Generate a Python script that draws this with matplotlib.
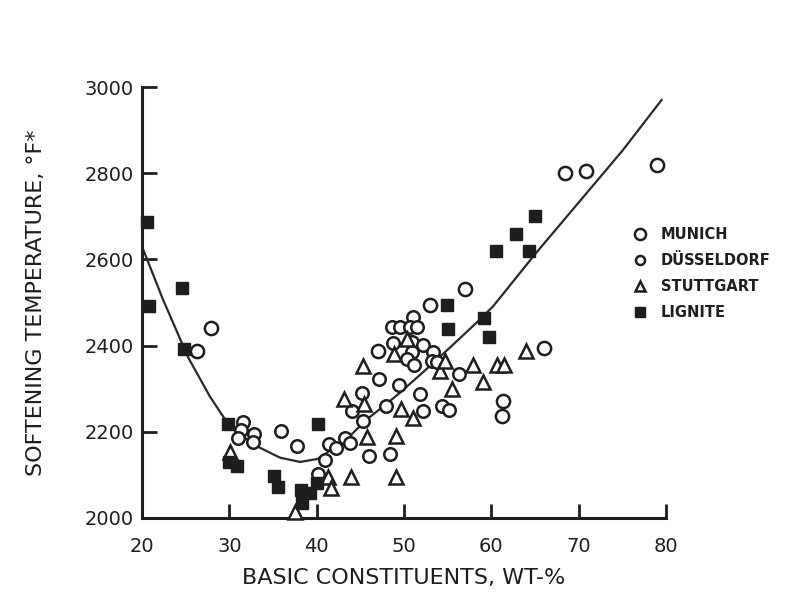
import matplotlib
matplotlib.use('Agg')
import matplotlib.pyplot as plt
from matplotlib.lines import Line2D

# fitted curve
curve_x = [20, 22.4, 25.3, 27.8, 29.7, 31.5, 33.5, 35.8, 38.1, 40.1, 41.8, 43.7,
           45.7, 48.0, 49.5, 52.6, 55.5, 58.3, 60.2, 65.0, 70.0, 75.0, 79.5]
curve_t = [2630, 2507, 2372, 2281, 2223, 2190, 2163, 2140, 2130, 2137, 2160, 2188,
           2228, 2265, 2290, 2346, 2400, 2453, 2491, 2612, 2732, 2852, 2970]

munich_x = [27.9, 26.3, 47.0, 53.0, 57.0, 61.3, 61.2, 66.0, 68.4, 70.8, 79.0]
munich_t = [2440, 2388, 2388, 2495, 2532, 2272, 2237, 2395, 2800, 2805, 2819]

dussel_x = [31.6, 31.3, 31.0, 32.8, 32.7, 35.9, 37.8, 40.9, 40.1, 41.4, 42.2, 43.2,
            43.8, 45.3, 44.0, 45.2, 47.1, 47.9, 46.0, 48.4, 48.6, 48.7, 49.4,
            51.0, 49.5, 50.7, 51.5, 50.9, 52.2, 50.9, 50.3, 51.2, 53.3, 53.2, 53.8,
            56.3, 51.8, 52.2, 54.3, 55.1]
dussel_t = [2223, 2205, 2186, 2195, 2177, 2202, 2167, 2135, 2102, 2172, 2163, 2186,
            2174, 2226, 2249, 2291, 2323, 2260, 2144, 2149, 2444, 2407, 2308,
            2467, 2444, 2442, 2442, 2409, 2402, 2386, 2370, 2356, 2384, 2365, 2363,
            2333, 2288, 2249, 2260, 2251]

stutt_x = [30.1, 37.5, 41.3, 41.6, 43.1, 43.9, 45.3, 45.4, 45.8, 48.9, 49.1, 49.1,
           49.7, 50.4, 51.0, 54.1, 54.7, 55.5, 57.9, 59.1, 60.6, 61.4, 64.0]
stutt_t = [2153, 2014, 2095, 2070, 2275, 2095, 2352, 2265, 2188, 2380, 2095, 2191,
           2253, 2415, 2233, 2340, 2364, 2300, 2356, 2316, 2356, 2356, 2388]

lignite_x = [20.6, 24.6, 20.8, 24.8, 29.9, 30.0, 30.9, 35.1, 35.6, 38.2, 39.2, 38.3,
             40.0, 40.1, 54.9, 55.0, 59.2, 59.7, 60.5, 64.3, 62.8, 65.0]
lignite_t = [2686, 2533, 2491, 2391, 2219, 2130, 2121, 2098, 2072, 2065, 2058, 2035,
             2081, 2219, 2495, 2439, 2465, 2421, 2619, 2619, 2658, 2700]

x_ticks = [20, 30, 40, 50, 60, 70, 80]
y_ticks = [2000, 2200, 2400, 2600, 2800, 3000]

ink = '#1e1e1e'

fig = plt.figure(figsize=(8, 5.98), dpi=100)
ax = fig.add_axes([0.1775, 0.1338, 0.655, 0.7207])

ax.plot(curve_x, curve_t, color='#2a2a2a', lw=1.6, zorder=2)

ax.plot(munich_x, munich_t, 'o', ms=9.5, mfc='white', mec=ink, mew=1.8, zorder=3, clip_on=False)
ax.plot(dussel_x, dussel_t, 'o', ms=9, mfc='white', mec=ink, mew=1.8, zorder=3, clip_on=False)
ax.plot(stutt_x, stutt_t, '^', ms=10.5, mfc='white', mec=ink, mew=1.8, zorder=3, clip_on=False)
ax.plot(lignite_x, lignite_t, 's', ms=8.5, mfc=ink, mec=ink, mew=1, zorder=4, clip_on=False)

ax.set_xlim(20, 80)
ax.set_ylim(2000, 3000)
ax.set_xticks(x_ticks)
ax.set_yticks(y_ticks)
for s in ['top', 'right']:
    ax.spines[s].set_visible(False)
for s in ['left', 'bottom']:
    ax.spines[s].set_linewidth(2.2)
    ax.spines[s].set_color(ink)
ax.tick_params(axis='x', direction='in', length=10, width=2, color=ink, pad=14,
               labelsize=14, labelcolor=ink)
ax.tick_params(axis='y', direction='in', length=11, width=2, color=ink, pad=6,
               labelsize=14, labelcolor=ink)

ax.set_xlabel('BASIC CONSTITUENTS, WT-%', fontsize=16, color=ink, labelpad=8)
ax.set_ylabel('SOFTENING TEMPERATURE, °F*', fontsize=16, color=ink, labelpad=28)

handles = [
    Line2D([], [], ls='none', marker='o', ms=8, mfc='white', mec=ink, mew=1.8),
    Line2D([], [], ls='none', marker='o', ms=6.5, mfc='white', mec=ink, mew=1.8),
    Line2D([], [], ls='none', marker='^', ms=7.5, mfc='white', mec=ink, mew=1.8),
    Line2D([], [], ls='none', marker='s', ms=7, mfc=ink, mec=ink),
]
labels = ['MUNICH', 'DÜSSELDORF', 'STUTTGART', 'LIGNITE']
leg = ax.legend(handles, labels, loc='upper left', bbox_to_anchor=(0.775, 0.642),
                bbox_transform=fig.transFigure, frameon=False, handlelength=1,
                handletextpad=0.9, labelspacing=0.75,
                prop={'size': 10.5, 'weight': 'bold'})
for t in leg.get_texts():
    t.set_color(ink)

fig.savefig('out.png', dpi=100)
